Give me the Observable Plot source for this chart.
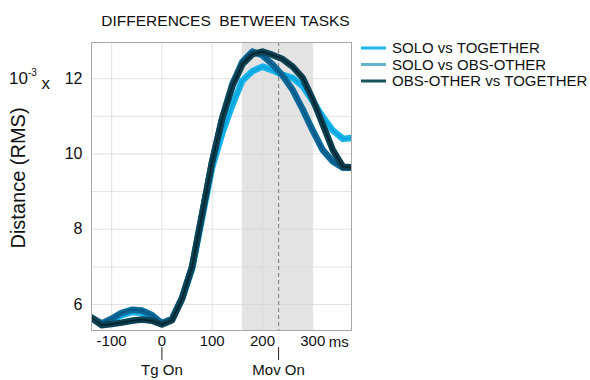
<!DOCTYPE html>
<html>
<head>
<meta charset="utf-8">
<script src="https://cdn.jsdelivr.net/npm/d3@7"></script>
<script src="https://cdn.jsdelivr.net/npm/@observablehq/plot@0.6"></script>
<style>
  html, body { margin: 0; padding: 0; background: #fff; }
  #chart { width: 590px; height: 380px; }
  svg { font-family: "Liberation Sans", Arial, sans-serif; }
</style>
</head>
<body>
<div id="chart"></div>
<script>
// ---- data (values in units of 10^-3) ----
const times = [-140,-120,-100,-80,-60,-40,-20,0,20,40,60,80,100,120,140,160,180,200,220,240,260,280,300,320,340,360,380];
const soloTogether = [5.63,5.48,5.57,5.72,5.80,5.78,5.66,5.50,5.60,6.15,6.95,8.30,9.65,10.55,11.30,11.95,12.20,12.32,12.22,12.10,12.02,11.80,11.40,10.98,10.62,10.40,10.43];
const soloObsOther = [5.65,5.50,5.62,5.78,5.86,5.84,5.72,5.50,5.62,6.18,7.00,8.40,9.80,10.95,11.85,12.45,12.72,12.62,12.38,12.08,11.70,11.18,10.62,10.10,9.80,9.63,9.63];
const obsTogether  = [5.65,5.45,5.48,5.52,5.57,5.60,5.57,5.47,5.58,6.15,7.00,8.40,9.80,10.95,11.80,12.38,12.65,12.72,12.63,12.52,12.32,12.02,11.45,10.78,10.10,9.66,9.64];

const seriesNames = ["SOLO vs TOGETHER", "SOLO vs OBS-OTHER", "OBS-OTHER vs TOGETHER"];
const seriesValues = [soloTogether, soloObsOther, obsTogether];
const bandColors = ["#16b3ea", "#0b6a9c", "#0c4254"];
const lineColors = ["#0aa3dc", "#0a5680", "#04232d"];
const legendColors = ["#1ab8ee", "#62b3c7", "#17525f"];

const xTicks = [-100, 0, 100, 200, 300];
const yTicks = [6, 8, 10, 12];
const yGrid = [6, 7, 8, 9, 10, 11, 12];
const shadeWindow = [{start: 160, end: 300}];
const events = [{t: 0, label: "Tg On"}, {t: 232, label: "Mov On"}];
const movOn = [232];
const title = "DIFFERENCES  BETWEEN TASKS";
const yLabel = "Distance (RMS)";

const rows = [];
seriesNames.forEach((s, i) => times.forEach((t, j) => rows.push({series: s, idx: i, t, v: seriesValues[i][j]})));

const lineMarks = [];
seriesNames.forEach((s, i) => {
  const d = rows.filter(r => r.idx === i);
  lineMarks.push(Plot.line(d, {x: "t", y: "v", stroke: bandColors[i], strokeWidth: 6.5, curve: "linear", clip: true}));
  lineMarks.push(Plot.line(d, {x: "t", y: "v", stroke: lineColors[i], strokeWidth: 1.6, curve: "linear", clip: true}));
});

const chart = Plot.plot({
  width: 590,
  height: 380,
  marginLeft: 91,
  marginRight: 239,
  marginTop: 42,
  marginBottom: 50,
  style: {fontFamily: "Liberation Sans, Arial, sans-serif", background: "#fff", color: "#111"},
  x: {domain: [-140, 377]},
  y: {domain: [5.31, 12.96]},
  marks: [
    Plot.rect(shadeWindow, {x1: "start", x2: "end", fill: "#e3e3e3"}),
    Plot.gridX(xTicks, {stroke: "#d6d6d6", strokeOpacity: 0.7}),
    Plot.gridY(yGrid, {stroke: "#d6d6d6", strokeOpacity: 0.7}),
    Plot.ruleX(movOn, {stroke: "#8a8a8a", strokeDasharray: "4,3", strokeWidth: 1.2}),
    ...lineMarks,
    Plot.frame({stroke: "#a8a8a8"}),
    Plot.axisX(xTicks, {tickSize: 0, tickPadding: 5, fontSize: 15, tickFormat: d => d < 0 ? "-" + Math.abs(d) : String(d)}),
    Plot.axisY(yTicks, {tickSize: 0, tickPadding: 9, fontSize: 16, label: null}),
    Plot.ruleX(events, {x: "t", insetTop: 305, insetBottom: -30, stroke: "#222", strokeWidth: 1}),
    Plot.text(events, {x: "t", text: "label", frameAnchor: "bottom", dy: 40, lineAnchor: "middle", fontSize: 15, fill: "#111"}),
    Plot.text(["ms"], {x: () => 300, frameAnchor: "bottom", text: d => d, dx: 16, dy: 12, lineAnchor: "middle", textAnchor: "start", fontSize: 15, fill: "#111"}),
    Plot.text([title], {frameAnchor: "top", text: d => d, dx: 4, dy: -21, lineAnchor: "middle", fontSize: 15.5, fill: "#111"})
  ]
});

document.getElementById("chart").appendChild(chart);

// ---- post annotations using the plot's scales ----
const svg = d3.select(chart);
const xs = chart.scale("x"), ys = chart.scale("y");
const y12 = ys.apply(12);

// "10^-3 x" exponent prefix next to the 12 tick
const pre = svg.append("text")
  .attr("x", 9).attr("y", y12).attr("dy", "0.32em")
  .attr("text-anchor", "start")
  .attr("font-size", 17).attr("fill", "#111");
pre.append("tspan").text("10");
pre.append("tspan").attr("font-size", 10).attr("dy", "-0.75em").text("-3");
pre.append("tspan").attr("dy", "0.75em").text(" x");

// rotated y label
const frameMid = (ys.apply(ys.domain[0]) + ys.apply(ys.domain[1])) / 2;
svg.append("text")
  .attr("transform", `translate(18,${frameMid - 8}) rotate(-90)`)
  .attr("text-anchor", "middle").attr("dy", "0.35em")
  .attr("font-size", 20).attr("fill", "#111")
  .text(yLabel);

// legend
const xRight = xs.apply(xs.domain[1]);
const lg = svg.append("g").attr("transform", `translate(${xRight + 10},0)`);
seriesNames.forEach((s, i) => {
  const yy = 48 + i * 16.5;
  lg.append("line").attr("x1", 0).attr("x2", 25).attr("y1", yy).attr("y2", yy)
    .attr("stroke", legendColors[i]).attr("stroke-width", 3);
  lg.append("text").attr("x", 31).attr("y", yy).attr("dy", "0.35em")
    .attr("text-anchor", "start")
    .attr("font-size", 15).attr("fill", "#111").text(s);
});
</script>
</body>
</html>
